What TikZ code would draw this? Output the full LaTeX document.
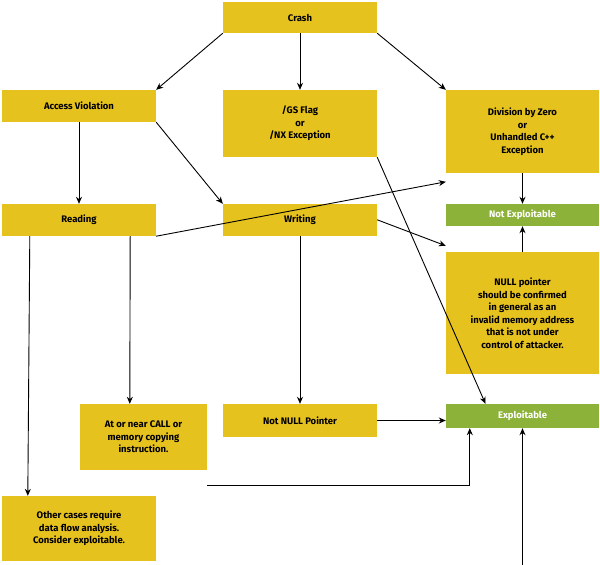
\documentclass[tikz,border=0pt]{standalone}
\usepackage{fontspec}
\setmainfont{Fira Sans}
\begin{document}
\begin{tikzpicture}[x=1pt,y=-1pt,
 box/.style={fill=yel,draw=none,font=\fontsize{9.5}{12.5}\selectfont\bfseries,align=center,inner sep=0pt},
 gbox/.style={box,fill=grn,text=white},
 arr/.style={->,>={Stealth[length=7pt,width=6pt]},line width=0.9pt}]
\usetikzlibrary{arrows.meta}
\definecolor{yel}{HTML}{E6C21F}
\definecolor{grn}{HTML}{8DB23A}
\useasboundingbox (0,0) rectangle (600,565);
\newcommand{\bx}[6][box]{\node[#1,minimum width=#4-#2,minimum height=#5-#3] (#6) at ({(#2+#4)/2},{(#3+#5)/2}) {};}
\bx{223}{2}{377}{33}{crash}\node[font=\fontsize{9.5}{12.5}\selectfont\bfseries] at (crash) {Crash};
\bx{2}{90}{156}{122}{av}\node[font=\fontsize{9.5}{12.5}\selectfont\bfseries] at (av) {Access Violation};
\bx{223}{90}{377}{157}{gs}\node[font=\fontsize{9.5}{12.5}\selectfont\bfseries,align=center] at (gs) {/GS Flag\\or\\/NX Exception};
\bx{446}{90}{599}{173}{div}\node[font=\fontsize{9.5}{12.5}\selectfont\bfseries,align=center] at (div) {Division by Zero\\or\\Unhandled C++\\Exception};
\bx[gbox]{446}{204}{599}{226}{ne}\node[font=\fontsize{9.5}{12.5}\selectfont\bfseries,text=white] at (ne) {Not Exploitable};
\bx{2}{204}{156}{236}{rd}\node[font=\fontsize{9.5}{12.5}\selectfont\bfseries] at (rd) {Reading};
\bx{223}{204}{377}{236}{wr}\node[font=\fontsize{9.5}{12.5}\selectfont\bfseries] at (wr) {Writing};
\bx{446}{252}{599}{374}{np}\node[font=\fontsize{9.5}{12.5}\selectfont\bfseries,align=center] at (np) {NULL pointer\\should be confirmed\\in general as an\\invalid memory address\\that is not under\\control of attacker.};
\bx{80}{404}{207}{470}{call}\node[font=\fontsize{9.5}{12.5}\selectfont\bfseries,align=center] at (call) {At or near CALL or\\memory copying\\instruction.};
\bx{223}{404}{377}{437}{nn}\node[font=\fontsize{9.5}{12.5}\selectfont\bfseries] at (nn) {Not NULL Pointer};
\bx[gbox]{446}{404}{599}{428}{ex}\node[font=\fontsize{9.5}{12.5}\selectfont\bfseries,text=white] at (ex) {Exploitable};
\bx{2}{496}{156}{561}{oth}\node[font=\fontsize{9.5}{12.5}\selectfont\bfseries,align=center] at (oth) {Other cases require\\data flow analysis.\\Consider exploitable.};
\draw[arr] (crash.south west) -- (av.north east);
\draw[arr] (crash.south) -- (gs.north);
\draw[arr] (crash.south east) -- (div.north west);
\draw[arr] (av.south) -- (rd.north);
\draw[arr] (av.south east) -- (wr.north west);
\draw[arr] (gs.south east) -- ([xshift=-37pt]ex.north);
\draw[arr] (div.south) -- (ne.north);
\draw[arr] (np.north) -- (ne.south);
\draw[arr] (wr.north east) ++(0,16) -- ([yshift=6pt]np.north west);
\draw[arr] (rd.south east) -- ([yshift=70pt]np.north west);
\draw[arr] ([xshift=-26pt]rd.south east) -- ([xshift=50pt]call.north west);
\draw[arr] ([xshift=28pt]rd.south west) -- ([xshift=26pt]oth.north west);
\draw[arr] (wr.south) -- (nn.north);
\draw[arr] (nn.east) -- (nn.east -| ex.west);
\draw[arr] ([yshift=-15pt]call.south east) -| ([xshift=24pt]ex.south west);
\draw[arr] ([yshift=-44pt]oth.south east) -| (ex.south);
\end{tikzpicture}
\end{document}
